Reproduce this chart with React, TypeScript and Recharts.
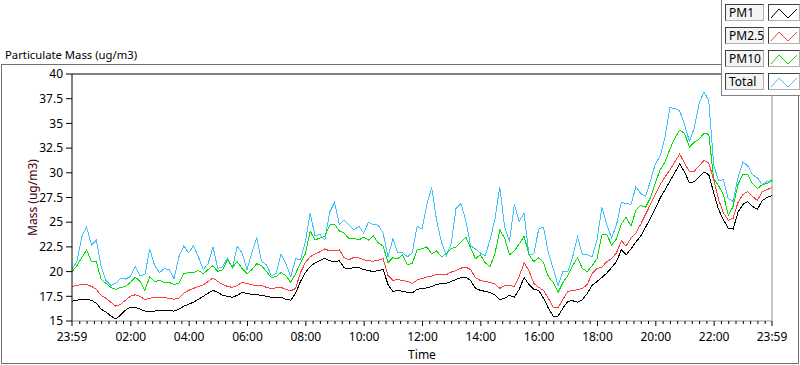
import React from 'react';
import { LineChart, Line, XAxis, YAxis, ReferenceLine } from 'recharts';

// minutes since the 23:59 start, one sample every 10 minutes
const TIME = [
  0, 10, 20, 30, 40, 50, 60, 70, 80, 90, 100, 110, 120, 130, 140, 150, 160, 170, 180, 190,
  200, 210, 220, 230, 240, 250, 260, 270, 280, 290, 300, 310, 320, 330, 340, 350, 360, 370, 380, 390,
  400, 410, 420, 430, 440, 450, 460, 470, 480, 490, 500, 510, 520, 530, 540, 550, 560, 570, 580, 590,
  600, 610, 620, 630, 640, 650, 660, 670, 680, 690, 700, 710, 720, 730, 740, 750, 760, 770, 780, 790,
  800, 810, 820, 830, 840, 850, 860, 870, 880, 890, 900, 910, 920, 930, 940, 950, 960, 970, 980, 990,
  1000, 1010, 1020, 1030, 1040, 1050, 1060, 1070, 1080, 1090, 1100, 1110, 1120, 1130, 1140, 1150, 1160, 1170, 1180, 1190,
  1200, 1210, 1220, 1230, 1240, 1250, 1260, 1270, 1280, 1290, 1300, 1310, 1320, 1330, 1340, 1350, 1360, 1370, 1380, 1390,
  1400, 1410, 1420, 1430, 1440,
];

const PM1 = [
  17.0, 17.1, 17.2, 17.2, 17.1, 16.8, 16.2, 15.9, 15.5, 15.2,
  15.6, 16.1, 16.4, 16.4, 16.2, 16.0, 16.0, 16.0, 16.1, 16.1,
  16.05, 16.0, 16.2, 16.5, 16.7, 16.9, 17.2, 17.5, 17.8, 18.1,
  17.9, 17.6, 17.5, 17.4, 17.6, 17.9, 17.8, 17.7, 17.65, 17.6,
  17.5, 17.4, 17.4, 17.4, 17.2, 17.1, 17.8, 19.0, 19.9, 20.5,
  20.9, 21.1, 21.35, 21.1, 21.0, 21.1, 20.4, 20.25, 20.45, 20.4,
  20.2, 20.1, 20.0, 20.1, 20.2, 18.7, 18.0, 18.1, 18.0, 17.9,
  17.85, 18.2, 18.3, 18.35, 18.5, 18.7, 18.8, 18.8, 19.0, 19.2,
  19.4, 19.45, 19.1, 18.3, 18.1, 18.0, 17.9, 17.65, 17.15, 17.3,
  17.6, 17.4, 18.2, 19.4, 18.7, 18.2, 18.1, 17.3, 16.3, 15.5,
  15.5, 16.3, 17.0, 17.05, 16.9, 17.15, 17.8, 18.6, 19.0, 19.4,
  19.85, 20.4, 21.0, 22.2, 21.7, 22.3, 23.0, 23.6, 24.5, 25.4,
  26.4, 27.45, 28.3, 29.15, 30.0, 30.9, 30.1, 29.0, 29.1, 29.6,
  30.1, 29.8, 28.0, 26.3, 25.25, 24.4, 24.3, 26.0, 26.8, 27.1,
  26.6, 26.3, 27.2, 27.5, 27.7,
];

const PM25 = [
  18.5, 18.6, 18.7, 18.7, 18.5, 18.2, 17.6, 17.3, 16.9, 16.5,
  16.7, 17.1, 17.5, 17.65, 17.5, 17.15, 17.3, 17.4, 17.4, 17.35,
  17.3, 17.2, 17.3, 17.8, 18.1, 18.3, 18.5, 18.65, 19.0, 19.35,
  19.0, 18.7, 18.5, 18.4, 18.6, 18.9, 18.8, 18.65, 18.6, 18.6,
  18.4, 18.3, 18.35, 18.4, 18.2, 18.05, 18.3, 19.9, 20.9, 21.5,
  21.8, 22.0, 22.3, 22.1, 22.1, 22.2, 21.4, 21.2, 21.45, 21.4,
  21.2, 21.1, 21.05, 21.15, 21.3, 19.6, 19.1, 19.2, 19.1, 19.0,
  18.8, 19.15, 19.3, 19.45, 19.55, 19.7, 19.7, 19.7, 19.95, 20.1,
  20.35, 20.45, 20.2, 19.4, 19.1, 19.0, 18.9, 18.75, 18.3, 18.6,
  18.6, 18.5, 19.5, 20.9, 20.1, 18.8, 18.4, 18.1, 17.3, 16.4,
  16.35, 17.2, 18.0, 18.1, 18.15, 18.3, 18.7, 19.8, 20.3, 20.45,
  21.0, 21.3, 21.9, 23.1, 22.6, 23.4, 23.9, 24.8, 25.8, 26.8,
  27.8, 28.8, 29.6, 30.3, 31.1, 31.9, 31.0, 30.1, 30.15, 30.7,
  31.25, 31.0, 29.3, 27.3, 25.95, 25.2, 25.4, 27.0, 27.8, 28.1,
  27.6, 27.2, 28.1, 28.3, 28.5,
];

const PM10 = [
  20.0, 20.6, 21.4, 22.2, 21.0, 21.0, 19.2, 18.8, 18.4, 18.2,
  18.4, 18.5, 18.9, 19.45, 19.0, 18.1, 19.5, 19.0, 19.1, 18.9,
  18.9, 18.7, 18.8, 19.8, 19.9, 19.9, 20.1, 19.8, 20.2, 20.6,
  20.0, 20.2, 21.2, 20.45, 21.0, 20.3, 19.8, 20.2, 20.8, 20.6,
  20.0, 19.4, 19.5, 19.9, 19.6, 18.9, 19.8, 20.9, 21.8, 24.1,
  23.2, 23.4, 23.55, 24.7, 24.8, 24.1, 23.9, 23.3, 23.4, 23.2,
  23.5, 23.2, 23.6, 22.9, 22.6, 20.9, 21.4, 21.3, 21.7, 20.7,
  20.85, 22.2, 22.3, 22.5, 21.8, 22.1, 21.5, 21.8, 22.3, 22.5,
  23.0, 23.5, 22.4, 21.3, 21.7, 20.9, 20.5, 21.8, 24.2, 23.4,
  21.7, 22.1, 22.8, 23.6, 21.7, 21.0, 21.4, 20.9, 19.5, 18.9,
  17.9, 18.9, 19.6, 20.6, 21.4, 20.3, 20.0, 20.6, 21.3, 23.7,
  23.75, 22.7, 23.3, 24.8, 25.5, 24.6, 26.2, 26.7, 26.5, 27.5,
  29.0, 30.3, 31.1, 32.4, 33.5, 34.3, 34.0, 32.6, 33.1, 33.4,
  34.0, 33.9, 29.4, 28.7, 27.8, 25.7, 26.6, 28.8, 29.85, 29.8,
  28.9, 28.4, 28.8, 28.9, 29.2,
];

const TOTAL = [
  20.3, 21.0, 23.5, 24.5, 22.7, 23.2, 20.5, 19.1, 18.6, 18.8,
  19.3, 19.25, 19.5, 20.5, 19.6, 19.7, 22.3, 20.6, 19.9, 20.3,
  20.2, 19.3, 21.5, 22.6, 21.9, 22.6, 21.5, 20.2, 20.8, 22.5,
  20.3, 20.5, 21.4, 20.4, 22.55, 21.9, 20.2, 21.9, 23.4, 21.0,
  20.7, 19.6, 19.8, 21.8, 20.8, 19.5, 21.3, 21.2, 23.0, 25.9,
  23.6, 23.75, 23.2, 26.0, 27.0, 24.8, 25.2, 24.7, 24.2, 24.6,
  23.9, 25.0, 24.75, 24.7, 23.9, 21.5, 23.3, 21.9, 21.9, 21.5,
  21.9, 24.6, 24.3, 26.8, 28.5, 25.2, 23.0, 21.6, 22.8, 26.4,
  26.9, 25.2, 22.6, 22.3, 21.9, 21.6, 23.2, 25.3, 28.6, 24.5,
  23.05, 26.8, 25.1, 25.9, 21.7, 21.8, 24.3, 24.5, 21.9, 20.3,
  18.6, 20.0, 20.0, 21.5, 23.5, 21.7, 21.7, 21.5, 23.2, 26.5,
  24.8, 23.4, 24.7, 27.0, 26.9, 26.8, 28.6, 27.9, 27.6, 29.2,
  30.9, 31.7, 33.6, 36.6, 36.5, 36.3, 34.9, 33.2, 34.5, 37.0,
  38.2, 37.3, 30.8, 29.2, 29.3, 27.4, 27.1, 29.5, 31.1, 30.7,
  29.8, 29.5, 28.8, 29.1, 29.3,
];

const SERIES = ['PM1', 'PM2.5', 'PM10', 'Total'];
const COLORS = ['#000000', '#ff4040', '#00e000', '#40c0ff'];

const Y_TICKS = [15, 17.5, 20, 22.5, 25, 27.5, 30, 32.5, 35, 37.5, 40];
const MAJOR_TICKS = [0, 121, 241, 361, 481, 601, 721, 841, 961, 1081, 1201, 1321, 1440];
const MAJOR_LABELS = ['23:59', '02:00', '04:00', '06:00', '08:00', '10:00', '12:00', '14:00', '16:00', '18:00', '20:00', '22:00', '23:59'];

// minor ticks every 15 min, plus the two end points
const X_TICKS: number[] = [0];
for (let m = 16; m < 1440; m += 15) X_TICKS.push(m);
X_TICKS.push(1440);

const data = TIME.map((t, i) => ({
  t,
  pm1: PM1[i],
  pm25: PM25[i],
  pm10: PM10[i],
  total: TOTAL[i],
}));

const FONT = '"Noto Sans", sans-serif';

const TimeTick = (props: any) => {
  const { x, y, payload } = props;
  const idx = MAJOR_TICKS.indexOf(payload.value);
  const major = idx >= 0;
  return (
    <g>
      <line x1={x} x2={x} y1={y} y2={y + (major ? 5 : 3)} stroke="#000" />
      {major && (
        <text x={x} y={y + 20} textAnchor="middle" fontSize={12} fontFamily={FONT} fill="#000">
          {MAJOR_LABELS[idx]}
        </text>
      )}
    </g>
  );
};

function Legend() {
  return (
    <div
      style={{
        position: 'absolute',
        left: 721,
        top: 0,
        width: 79,
        height: 96,
        boxSizing: 'border-box',
        background: '#fff',
        borderLeft: '1px solid #808080',
        borderBottom: '1px solid #808080',
      }}
    >
      {SERIES.map((name, i) => (
        <div key={name} style={{ position: 'absolute', left: 3, top: 4 + i * 23, height: 17 }}>
          <div
            style={{
              position: 'absolute',
              left: 0,
              top: 0,
              width: 39,
              height: 17,
              boxSizing: 'border-box',
              background: '#f4f4f4',
              border: '1px solid',
              borderColor: '#404040 #b0b0b0 #b0b0b0 #404040',
              fontFamily: FONT,
              fontSize: 12,
              lineHeight: '15px',
              paddingLeft: 3,
              color: '#000',
              whiteSpace: 'nowrap',
            }}
          >
            {name}
          </div>
          <svg
            width={32}
            height={17}
            style={{
              position: 'absolute',
              left: 43,
              top: 0,
              boxSizing: 'border-box',
              border: '1px solid',
              borderColor: '#404040 #b0b0b0 #b0b0b0 #404040',
              background: '#fff',
            }}
          >
            <polyline points="2,13 10,4 19,13 28,4" fill="none" stroke={COLORS[i]} strokeWidth={1} />
          </svg>
        </div>
      ))}
    </div>
  );
}

export default function App() {
  return (
    <div style={{ position: 'absolute', left: 0, top: 0, width: 800, height: 365, background: '#fff', overflow: 'hidden' }}>
      <div
        style={{
          position: 'absolute',
          left: 1,
          top: 64,
          width: 798,
          height: 300,
          boxSizing: 'border-box',
          border: '1px solid #707070',
        }}
      />
      <div
        style={{
          position: 'absolute',
          left: 5,
          top: 47,
          fontFamily: FONT,
          fontSize: 11.3,
          color: '#000',
          whiteSpace: 'nowrap',
        }}
      >
        Particulate Mass (ug/m3)
      </div>
      <div style={{ position: 'absolute', left: 0, top: 0 }}>
        <LineChart width={800} height={365} data={data} margin={{ top: 74, right: 28, bottom: 0, left: 0 }}>
          <XAxis
            dataKey="t"
            type="number"
            domain={[0, 1440]}
            ticks={X_TICKS}
            interval={0}
            tick={<TimeTick />}
            tickLine={false}
            tickSize={0}
            tickMargin={0}
            height={44}
            axisLine={{ stroke: '#909090' }}
            label={{ value: 'Time', position: 'insideBottom', offset: 6, fontSize: 12, fontFamily: FONT, fill: '#000' }}
          />
          <YAxis
            type="number"
            domain={[15, 40]}
            ticks={Y_TICKS}
            interval={0}
            width={72}
            tickSize={6}
            tickMargin={3}
            tickLine={{ stroke: '#000' }}
            axisLine={{ stroke: '#000' }}
            tick={{ fontSize: 12, fontFamily: FONT, fill: '#000' }}
            label={{
              value: 'Mass (ug/m3)',
              angle: -90,
              position: 'insideLeft',
              offset: 33,
              fontSize: 12,
              fontFamily: FONT,
              fill: '#4a0010',
              style: { textAnchor: 'middle' },
            }}
          />
          <ReferenceLine y={40} stroke="#000" ifOverflow="extendDomain" />
          <ReferenceLine x={1440} stroke="#909090" />
          <Line type="linear" dataKey="total" stroke={COLORS[3]} strokeWidth={1} dot={false} shapeRendering="crispEdges" isAnimationActive={false} />
          <Line type="linear" dataKey="pm10" stroke={COLORS[2]} strokeWidth={1} dot={false} shapeRendering="crispEdges" isAnimationActive={false} />
          <Line type="linear" dataKey="pm25" stroke={COLORS[1]} strokeWidth={1} dot={false} shapeRendering="crispEdges" isAnimationActive={false} />
          <Line type="linear" dataKey="pm1" stroke={COLORS[0]} strokeWidth={1} dot={false} shapeRendering="crispEdges" isAnimationActive={false} />
        </LineChart>
      </div>
      <Legend />
    </div>
  );
}
